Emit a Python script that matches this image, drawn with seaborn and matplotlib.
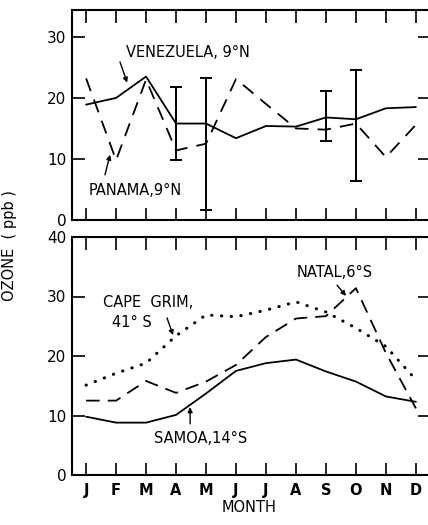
import matplotlib
matplotlib.use("Agg")
import matplotlib.pyplot as plt
import seaborn as sns
import pandas as pd
import numpy as np

# Monthly mean surface ozone (ppb)
months = ["J", "F", "M", "A", "M", "J", "J", "A", "S", "O", "N", "D"]
venezuela = [18.9, 20.0, 23.5, 15.8, 15.8, 13.4, 15.4, 15.3, 16.8, 16.5, 18.3, 18.5]
panama = [23.2, 9.8, 23.0, 11.4, 12.5, 23.1, 19.0, 15.0, 14.8, 15.8, 10.3, 15.6]
samoa = [9.8, 8.8, 8.8, 10.1, 13.7, 17.5, 18.8, 19.4, 17.4, 15.7, 13.2, 12.3]
natal = [12.5, 12.5, 15.8, 13.8, 15.7, 18.5, 23.2, 26.3, 26.7, 31.4, 20.5, 11.2]
cape_grim = [15.1, 17.1, 18.8, 23.4, 26.9, 26.6, 27.7, 29.1, 27.4, 24.7, 21.6, 16.0]

# Range bars on the northern-hemisphere stations
err_month = [3, 4, 8, 9]
err_low = [9.8, 1.6, 13.0, 6.4]
err_high = [21.8, 23.2, 21.1, 24.6]

top_ticks = [0, 10, 20, 30]
bottom_ticks = [0, 10, 20, 30, 40]

sns.set_style("ticks")
plt.rcParams["font.family"] = ["DejaVu Sans"]
plt.rcParams["axes.linewidth"] = 1.5
for key in ("text.color", "axes.labelcolor", "xtick.color", "ytick.color",
            "axes.edgecolor"):
    plt.rcParams[key] = "black"

idx = np.arange(len(months))
top_df = pd.DataFrame({"m": np.tile(idx, 2),
                       "ozone": venezuela + panama,
                       "site": ["VENEZUELA"] * 12 + ["PANAMA"] * 12})
bot_df = pd.DataFrame({"m": np.tile(idx, 3),
                       "ozone": samoa + natal + cape_grim,
                       "site": ["SAMOA"] * 12 + ["NATAL"] * 12 + ["CAPE GRIM"] * 12})

fig = plt.figure(figsize=(4.28, 5.25), dpi=100)
W, H = 428, 525
def rect(l, t, r, b):
    return [l / W, 1 - b / H, (r - l) / W, (b - t) / H]

ax1 = fig.add_axes(rect(72, 10, 430, 220))
ax2 = fig.add_axes(rect(72, 237, 430, 475))

black = "black"
sns.lineplot(data=top_df[top_df.site == "VENEZUELA"], x="m", y="ozone", ax=ax1,
             color=black, lw=1.3, legend=False)
sns.lineplot(data=top_df[top_df.site == "PANAMA"], x="m", y="ozone", ax=ax1,
             color=black, lw=1.3, legend=False)
ax1.lines[-1].set_dashes((7.5, 5))

mid = (np.array(err_low) + np.array(err_high)) / 2
half = (np.array(err_high) - np.array(err_low)) / 2
ax1.errorbar(err_month, mid, yerr=half, fmt="none", ecolor=black,
             elinewidth=1.4, capsize=4, capthick=1.4)

sns.lineplot(data=bot_df[bot_df.site == "SAMOA"], x="m", y="ozone", ax=ax2,
             color=black, lw=1.3, legend=False)
sns.lineplot(data=bot_df[bot_df.site == "NATAL"], x="m", y="ozone", ax=ax2,
             color=black, lw=1.3, legend=False)
ax2.lines[-1].set_dashes((7.5, 4.5))
sns.lineplot(data=bot_df[bot_df.site == "CAPE GRIM"], x="m", y="ozone", ax=ax2,
             color=black, lw=2.2, legend=False)
ax2.lines[-1].set_dashes((0.1, 3.1))
ax2.lines[-1].set_dash_capstyle("round")

for ax, yt, ymax in ((ax1, top_ticks, 34.4), (ax2, bottom_ticks, 40)):
    ax.set_xlim(-0.47, 11.47)
    ax.set_ylim(0, ymax)
    ax.set_yticks(yt)
    ax.set_xticks(idx)
    ax.tick_params(direction="in", length=9, width=1.2, top=True, right=True,
                   labelsize=11, pad=4, colors=black)
    ax.set_xlabel("")
    ax.set_ylabel("")
    for s in ax.spines.values():
        s.set_visible(True)
        s.set_linewidth(1.5)
        s.set_color(black)
ax1.set_xticklabels([])
ax2.set_xticklabels(months, fontsize=10.5, fontweight="semibold")
ax2.tick_params(axis="x", pad=6)

arrow = dict(arrowstyle="-|>", color=black, lw=1.0, mutation_scale=7,
             shrinkA=0, shrinkB=0)
fs = 10.5
ax1.annotate("", xy=(1.37, 22.5), xytext=(1.13, 25.9), arrowprops=arrow)
ax1.text(3.4, 27.5, "VENEZUELA, 9°N", ha="center", va="center", fontsize=fs)
ax1.annotate("", xy=(0.8, 10.7), xytext=(0.63, 7.4), arrowprops=arrow)
ax1.text(1.63, 4.9, "PANAMA,9°N", ha="center", va="center", fontsize=fs)

ax2.text(2.07, 29.0, "CAPE  GRIM,", ha="center", va="center", fontsize=fs)
ax2.text(1.53, 25.7, "41° S", ha="center", va="center", fontsize=fs)
ax2.annotate("", xy=(2.9, 23.5), xytext=(2.7, 26.4), arrowprops=arrow)
ax2.text(8.3, 34.1, "NATAL,6°S", ha="center", va="center", fontsize=fs)
ax2.annotate("", xy=(8.67, 30.1), xytext=(8.37, 31.9), arrowprops=arrow)
ax2.text(3.83, 6.2, "SAMOA,14°S", ha="center", va="center", fontsize=fs)
ax2.annotate("", xy=(3.47, 11.4), xytext=(3.47, 8.6), arrowprops=arrow)

fig.text(10 / W, 1 - 246 / H, "OZONE  ( ppb )", rotation=90, ha="center",
         va="center", fontsize=10.5)
fig.text(249 / W, 1 - 507 / H, "MONTH", ha="center", va="center", fontsize=10.5)

fig.savefig("out.png", dpi=100)
